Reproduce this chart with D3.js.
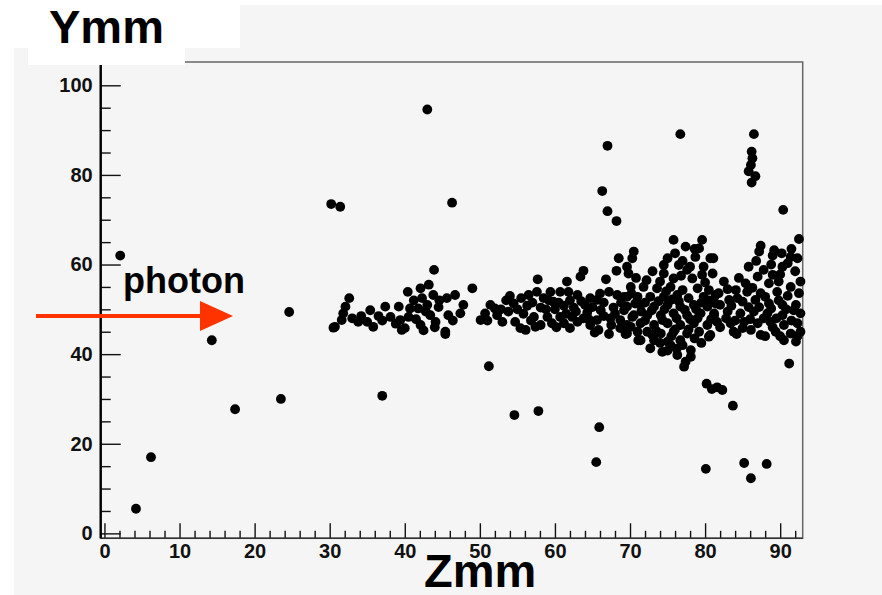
<!DOCTYPE html>
<html>
<head>
<meta charset="utf-8">
<script src="https://cdn.jsdelivr.net/npm/d3@7"></script>
<style>
  html, body { margin: 0; padding: 0; background: #ffffff; }
  svg { display: block; }
  text { font-family: "Liberation Sans", Arial, sans-serif; }
</style>
</head>
<body>
<svg id="chart" width="882" height="595"></svg>
<script>
// Hit positions (Z, Y) in mm
const isolatedHits = [
  [2.1, 62.0], [4.2, 5.5], [6.2, 17.0], [14.3, 43.1], [17.4, 27.7],
  [23.5, 30.0], [24.6, 49.4], [30.2, 73.5], [31.4, 72.9], [37.0, 30.7],
  [43.0, 94.6], [46.3, 73.8], [51.2, 37.3], [54.6, 26.4], [57.8, 27.3],
  [65.5, 15.9], [65.9, 23.7], [66.3, 76.4], [67.0, 86.5], [67.0, 71.9],
  [68.2, 69.7], [76.7, 89.1], [80.1, 14.4], [80.2, 33.4], [80.9, 32.2],
  [81.6, 32.6], [82.3, 32.0], [83.7, 28.5], [85.2, 15.7], [86.1, 12.3],
  [88.2, 15.5], [86.5, 89.1], [86.2, 85.2], [86.3, 83.7], [86.1, 82.2],
  [85.8, 80.8], [86.7, 79.7], [86.2, 78.3], [90.4, 72.2], [91.2, 37.9],
  [92.5, 65.7]
];

const trackStart = [
  [30.5, 45.9], [30.7, 46.1], [31.6, 47.6], [31.8, 49.1], [32.1, 50.6],
  [32.6, 52.5], [33.0, 48.0], [33.8, 47.2], [34.2, 48.5], [35.0, 47.2],
  [35.4, 49.8], [35.8, 46.1], [36.5, 48.5], [37.0, 47.5], [37.4, 50.6],
  [38.1, 48.3], [38.8, 46.8], [39.2, 50.6], [39.4, 47.6], [39.6, 45.4],
  [40.0, 45.8], [40.4, 53.9], [40.7, 50.2], [40.5, 48.3], [41.2, 52.0],
  [41.5, 47.8], [41.8, 50.2], [42.1, 54.7], [42.3, 52.5], [42.1, 46.5],
  [42.5, 45.3], [42.8, 49.5], [43.0, 51.0], [43.2, 55.5], [43.4, 48.7],
  [43.8, 53.2], [43.9, 58.8], [44.0, 46.0], [44.1, 47.2], [44.5, 50.5],
  [44.6, 52.0], [45.4, 45.0], [45.4, 44.5], [45.6, 52.5], [45.8, 48.7],
  [46.4, 47.5], [46.7, 53.2], [47.4, 49.1], [47.8, 51.0], [49.0, 54.7],
  [50.1, 47.6]
];

const trackMiddle = [
  [50.7, 49.1], [51.4, 51.0], [52.0, 50.2], [52.3, 48.7], [53.0, 47.2],
  [53.8, 49.5], [54.0, 53.0], [54.5, 51.3], [54.7, 47.2], [55.4, 45.8],
  [55.8, 49.0], [56.1, 45.4], [56.3, 50.8], [56.5, 53.2], [57.0, 51.5],
  [57.2, 48.3], [57.4, 46.1], [57.6, 53.9], [57.7, 56.7], [58.1, 50.4],
  [58.1, 46.5], [58.5, 52.5], [59.0, 48.3], [59.4, 53.9], [59.6, 46.9],
  [59.8, 51.7], [60.0, 50.0], [60.7, 53.9], [60.7, 48.3], [61.2, 50.8],
  [61.2, 46.9], [61.6, 56.2], [61.8, 53.9], [62.0, 52.0], [62.3, 48.3],
  [62.5, 50.4], [63.0, 53.2], [63.0, 47.2], [63.4, 57.3], [63.8, 58.6],
  [63.8, 48.0], [64.0, 51.0], [64.3, 49.3], [64.7, 52.5], [64.7, 46.5],
  [65.6, 52.1], [65.6, 47.6], [65.8, 45.4], [66.1, 49.8], [66.5, 51.5],
  [66.8, 56.7], [67.2, 53.9], [67.2, 44.5], [67.4, 48.0], [67.8, 50.4],
  [68.2, 58.6], [68.3, 53.2], [68.5, 61.4], [68.7, 47.6], [68.7, 45.8],
  [69.2, 49.8], [69.4, 44.5], [69.6, 52.8], [70.1, 46.1], [70.3, 48.3],
  [70.7, 51.3], [71.1, 43.1],
  [51.0, 47.5], [52.8, 50.0], [53.5, 52.0], [55.0, 50.0], [55.5, 52.5],
  [56.8, 47.5], [58.8, 50.0], [59.2, 52.0], [60.2, 46.0], [60.5, 51.5],
  [61.5, 49.0], [62.8, 49.5], [63.5, 51.8], [64.5, 47.8], [65.0, 50.5],
  [66.0, 53.5], [66.5, 48.5], [67.5, 46.5], [68.0, 49.0], [68.8, 51.5],
  [62.0, 45.8], [65.3, 44.8]
];

const showerCore = [
  [69.6, 59.5], [69.8, 58.0], [70.1, 55.0], [70.3, 61.4], [70.5, 62.9],
  [69.2, 52.8], [69.6, 50.6], [70.5, 48.7], [69.6, 46.5], [69.6, 44.6],
  [71.0, 52.8], [71.4, 51.0], [71.4, 46.9], [71.4, 43.1], [71.8, 55.0],
  [72.3, 48.7], [72.3, 45.0], [72.7, 52.8], [72.7, 41.3], [73.2, 50.6],
  [73.2, 46.5], [73.2, 43.1], [73.6, 54.7], [74.1, 48.7], [74.1, 44.6],
  [74.3, 40.5], [74.5, 59.9], [74.5, 58.0], [74.5, 52.8], [75.0, 61.4],
  [75.0, 51.0], [75.0, 46.9], [75.0, 42.8], [75.4, 55.0], [75.4, 42.0],
  [75.8, 65.5], [75.8, 56.9], [75.8, 49.1], [75.8, 45.0], [76.3, 53.2],
  [76.3, 39.8], [76.5, 59.9], [76.7, 50.6], [76.7, 46.5], [76.7, 43.1],
  [77.0, 54.3], [77.2, 37.2], [77.4, 64.0], [77.4, 38.3], [77.6, 58.8],
  [77.6, 48.7], [77.6, 44.6], [77.8, 52.5], [78.1, 40.9], [78.1, 39.4],
  [78.3, 56.9], [78.5, 51.0], [78.5, 46.9], [78.7, 61.7], [79.0, 54.7],
  [79.2, 63.6], [79.4, 49.1], [79.6, 65.5], [79.6, 57.7], [79.8, 59.5],
  [79.8, 52.8], [80.3, 50.6], [80.3, 46.5], [80.5, 54.3], [80.5, 43.9],
  [80.7, 61.4], [80.7, 44.3], [81.1, 61.4], [81.2, 48.7], [81.2, 49.1],
  [81.4, 53.2], [81.4, 51.3], [81.6, 47.2], [81.8, 53.6], [82.5, 56.2],
  [83.0, 49.5], [83.2, 52.1], [83.4, 46.9], [83.8, 45.0], [84.1, 54.3],
  [84.7, 49.1], [85.0, 51.7], [85.2, 47.2], [85.4, 55.8], [85.6, 53.9],
  [85.8, 59.5], [86.1, 45.4], [86.5, 49.5], [86.7, 52.1], [87.0, 57.3],
  [87.0, 46.9], [87.2, 62.9], [87.4, 64.2], [87.4, 53.6], [87.4, 44.3],
  [87.8, 58.8], [88.3, 49.1], [88.5, 55.8], [88.5, 51.3], [88.7, 47.2],
  [89.0, 62.0], [89.0, 57.7], [89.2, 63.2], [89.4, 45.0], [89.6, 53.9],
  [89.8, 56.2], [90.3, 59.5], [90.3, 51.0], [90.3, 48.7], [90.5, 46.5],
  [90.5, 43.1], [91.0, 60.3], [91.4, 61.7], [91.4, 55.0], [91.4, 44.6],
  [92.1, 51.0], [92.1, 42.8], [92.3, 61.4], [92.3, 46.9], [92.5, 53.6],
  [92.7, 56.2], [92.7, 49.1], [92.7, 45.0],
  [70.8, 57.0], [72.2, 56.5], [73.0, 58.5], [74.0, 56.2], [76.0, 62.5],
  [77.0, 60.8], [78.0, 59.5], [78.6, 63.5], [76.8, 57.5], [80.0, 56.0],
  [81.0, 58.0], [80.5, 52.0], [70.2, 53.5], [71.5, 49.5], [72.0, 51.5],
  [72.9, 49.8], [73.8, 51.8], [74.6, 50.0], [74.8, 54.0], [75.6, 52.2],
  [76.2, 48.0], [76.5, 51.8], [77.3, 49.9], [78.0, 47.8], [78.8, 50.0],
  [79.0, 48.0], [79.5, 51.5], [80.8, 47.8], [71.0, 45.0], [72.0, 47.5],
  [73.5, 45.2], [74.3, 47.6], [75.5, 44.0], [76.0, 45.5], [77.0, 42.0],
  [77.8, 45.5], [78.6, 43.5], [79.2, 45.0], [74.0, 42.5], [76.2, 41.2],
  [75.0, 40.8], [73.0, 44.2], [79.5, 42.5], [82.0, 51.0], [82.8, 48.0],
  [83.5, 50.8], [84.3, 52.5], [84.0, 47.5], [85.0, 45.8], [85.8, 50.5],
  [86.3, 54.8], [86.0, 47.8], [87.2, 50.5], [87.8, 48.0], [88.0, 52.8],
  [88.8, 50.2], [89.5, 48.0], [89.0, 46.0], [89.8, 52.0], [90.8, 50.0],
  [91.0, 53.0], [91.5, 47.5], [91.8, 49.8], [92.0, 58.5], [90.0, 57.8],
  [88.8, 60.0], [91.5, 63.5], [90.2, 62.5], [86.8, 60.8], [84.5, 57.0],
  [83.0, 54.5], [82.0, 46.0], [84.2, 44.5], [88.0, 44.0], [90.0, 44.0],
  [92.3, 44.0]
];

const xTicksMajor = [0, 10, 20, 30, 40, 50, 60, 70, 80, 90];
const yTicksMajor = [0, 20, 40, 60, 80, 100];
const xDomain = [-0.5, 93];
const yDomain = [-1.1, 105.2];

const allHits = isolatedHits.concat(trackStart, trackMiddle, showerCore);

const svg = d3.select("#chart");
const frame = { left: 100.7, right: 802.7, top: 62, bottom: 538.3 };

const x = d3.scaleLinear().domain(xDomain).range([frame.left, frame.right]);
const y = d3.scaleLinear().domain(yDomain).range([frame.bottom, frame.top]);

// canvas
svg.append("rect").attr("x", 14).attr("y", 5).attr("width", 868).attr("height", 590)
  .attr("fill", "#f5f5f5");

// frame (top and right edges)
svg.append("rect")
  .attr("x", frame.left).attr("y", frame.top)
  .attr("width", frame.right - frame.left).attr("height", frame.bottom - frame.top)
  .attr("fill", "none").attr("stroke", "#666").attr("stroke-width", 1.5);

// minor ticks
const xMinor = d3.range(0, 93, 2).filter(v => v % 10 !== 0);
const yMinor = d3.range(0, 105, 5).filter(v => v % 20 !== 0);

const xAxisMinor = d3.axisBottom(x).tickValues(xMinor).tickSize(-7.5).tickFormat("");
const yAxisMinor = d3.axisLeft(y).tickValues(yMinor).tickSize(-10).tickFormat("");
const xAxis = d3.axisBottom(x).tickValues(xTicksMajor).tickSize(-15).tickPadding(6).tickFormat(d3.format("d"));
const yAxis = d3.axisLeft(y).tickValues(yTicksMajor).tickSize(-20).tickPadding(8).tickFormat(d3.format("d"));

function styleAxis(g) {
  g.select(".domain").remove();
  g.selectAll("line").attr("stroke", "#111").attr("stroke-width", 1.4);
  g.selectAll("text").attr("fill", "#111")
    .style("font-family", "'Liberation Sans', Arial, sans-serif")
    .style("font-weight", "bold").style("font-size", "20px");
}

svg.append("g").attr("transform", `translate(0,${frame.bottom})`).call(xAxisMinor).call(styleAxis);
svg.append("g").attr("transform", `translate(${frame.left},0)`).call(yAxisMinor).call(styleAxis);
svg.append("g").attr("transform", `translate(0,${frame.bottom})`).call(xAxis).call(styleAxis);
svg.append("g").attr("transform", `translate(${frame.left},0)`).call(yAxis).call(styleAxis);

// axis lines
svg.append("line").attr("x1", frame.left).attr("x2", frame.right)
  .attr("y1", frame.bottom).attr("y2", frame.bottom)
  .attr("stroke", "#333").attr("stroke-width", 1.6);
svg.append("line").attr("x1", frame.left).attr("x2", frame.left)
  .attr("y1", frame.top).attr("y2", frame.bottom)
  .attr("stroke", "#000").attr("stroke-width", 2.4);

// hits
svg.append("g").selectAll("circle").data(allHits).join("circle")
  .attr("cx", d => x(d[0])).attr("cy", d => y(d[1]))
  .attr("r", 4.9).attr("fill", "#000");

// title box for the vertical axis name
svg.append("rect").attr("x", 14).attr("y", 5).attr("width", 226).attr("height", 43).attr("fill", "#fff");
svg.append("rect").attr("x", 28).attr("y", 47).attr("width", 157).attr("height", 18).attr("fill", "#fff");
svg.append("text").attr("x", 49).attr("y", 43)
  .style("font-weight", "bold").style("font-size", "47px").attr("fill", "#000").text("Ymm");

svg.append("text").attr("x", 424).attr("y", 587)
  .style("font-weight", "bold").style("font-size", "47px").attr("fill", "#000").text("Zmm");

// incoming photon direction
const arrowY = 316;
svg.append("line").attr("x1", 36).attr("x2", 206).attr("y1", arrowY).attr("y2", arrowY)
  .attr("stroke", "#ff3300").attr("stroke-width", 4);
svg.append("path")
  .attr("d", `M233,${arrowY} L200,${arrowY - 15} L200,${arrowY + 15} Z`)
  .attr("fill", "#ff3300");
svg.append("text").attr("x", 123).attr("y", 293)
  .style("font-weight", "bold").style("font-size", "36px").attr("fill", "#000").text("photon");
</script>
</body>
</html>
